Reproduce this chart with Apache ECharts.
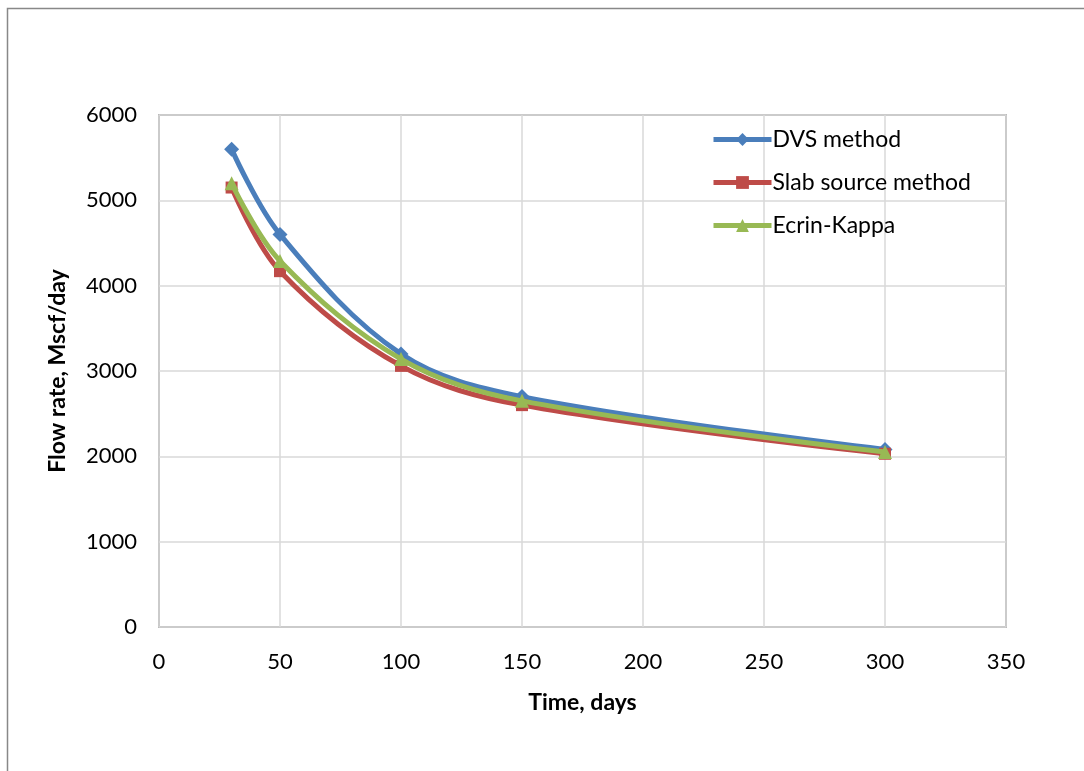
<!DOCTYPE html>
<html><head><meta charset="utf-8">
<script src="https://cdn.jsdelivr.net/npm/echarts@6/dist/echarts.min.js"></script>
<style>html,body{margin:0;padding:0;background:#fff}#c{width:1084px;height:771px}</style>
</head><body><div id="c"></div>
<script>
const days = [30, 50, 100, 150, 300];
const dvs = [5600, 4600, 3200, 2700, 2080];
const slab = [5150, 4170, 3060, 2600, 2030];
const ecrin = [5200, 4290, 3140, 2650, 2050];
const seriesNames = ['DVS method', 'Slab source method', 'Ecrin-Kappa'];
const FONT = 'Lato, "Open Sans", sans-serif';
const pair = (xs, ys) => xs.map((x, i) => [x, ys[i]]);
const chart = echarts.init(document.getElementById('c'));
chart.setOption({
  animation: false,
  backgroundColor: '#fff',
  graphic: [{type: 'rect', shape: {x: 7.5, y: 8.5, width: 1200, height: 900}, style: {fill: 'none', stroke: '#888', lineWidth: 1.5}, silent: true}],
  grid: {left: 159, top: 115, right: 78, bottom: 144, show: true, borderColor: '#878787', borderWidth: 1.5, containLabel: false},
  legend: {
    orient: 'vertical', left: 706, top: 123, itemGap: 20, itemWidth: 58, itemHeight: 16,
    lineStyle: {width: 5},
    textStyle: {fontFamily: FONT, fontSize: 23, color: '#000', padding: [0,0,0,-4]},
    data: seriesNames
  },
  xAxis: {
    type: 'value', min: 0, max: 350, interval: 50,
    name: 'Time, days', nameLocation: 'middle', nameGap: 64,
    nameTextStyle: {fontFamily: FONT, fontSize: 23, fontWeight: 'bold', color: '#000'},
    axisLine: {show: false}, axisTick: {show: false},
    axisLabel: {fontFamily: FONT, fontSize: 22, color: '#000', margin: 24},
    splitLine: {lineStyle: {color: '#d9d9d9', width: 1.5}}
  },
  yAxis: {
    type: 'value', min: 0, max: 6000, interval: 1000,
    name: 'Flow rate, Mscf/day', nameLocation: 'middle', nameGap: 90,
    nameTextStyle: {fontFamily: FONT, fontSize: 23, fontWeight: 'bold', color: '#000'},
    axisLine: {show: false}, axisTick: {show: false},
    axisLabel: {fontFamily: FONT, fontSize: 22, color: '#000', margin: 22, formatter: v => String(v)},
    splitLine: {lineStyle: {color: '#d9d9d9', width: 1.5}}
  },
  series: [
    {name: seriesNames[0], type: 'line', smooth: 0.35, data: pair(days, dvs), symbol: 'diamond', symbolSize: 15,
     lineStyle: {color: '#4a7ebb', width: 5}, itemStyle: {color: '#4a7ebb'}, z: 3},
    {name: seriesNames[1], type: 'line', smooth: 0.35, data: pair(days, slab), symbol: 'rect', symbolSize: 12,
     lineStyle: {color: '#be4b48', width: 5}, itemStyle: {color: '#be4b48'}, z: 4},
    {name: seriesNames[2], type: 'line', smooth: 0.35, data: pair(days, ecrin), symbol: 'triangle', symbolSize: 14,
     lineStyle: {color: '#98b954', width: 5}, itemStyle: {color: '#98b954'}, z: 5}
  ]
});
</script></body></html>
